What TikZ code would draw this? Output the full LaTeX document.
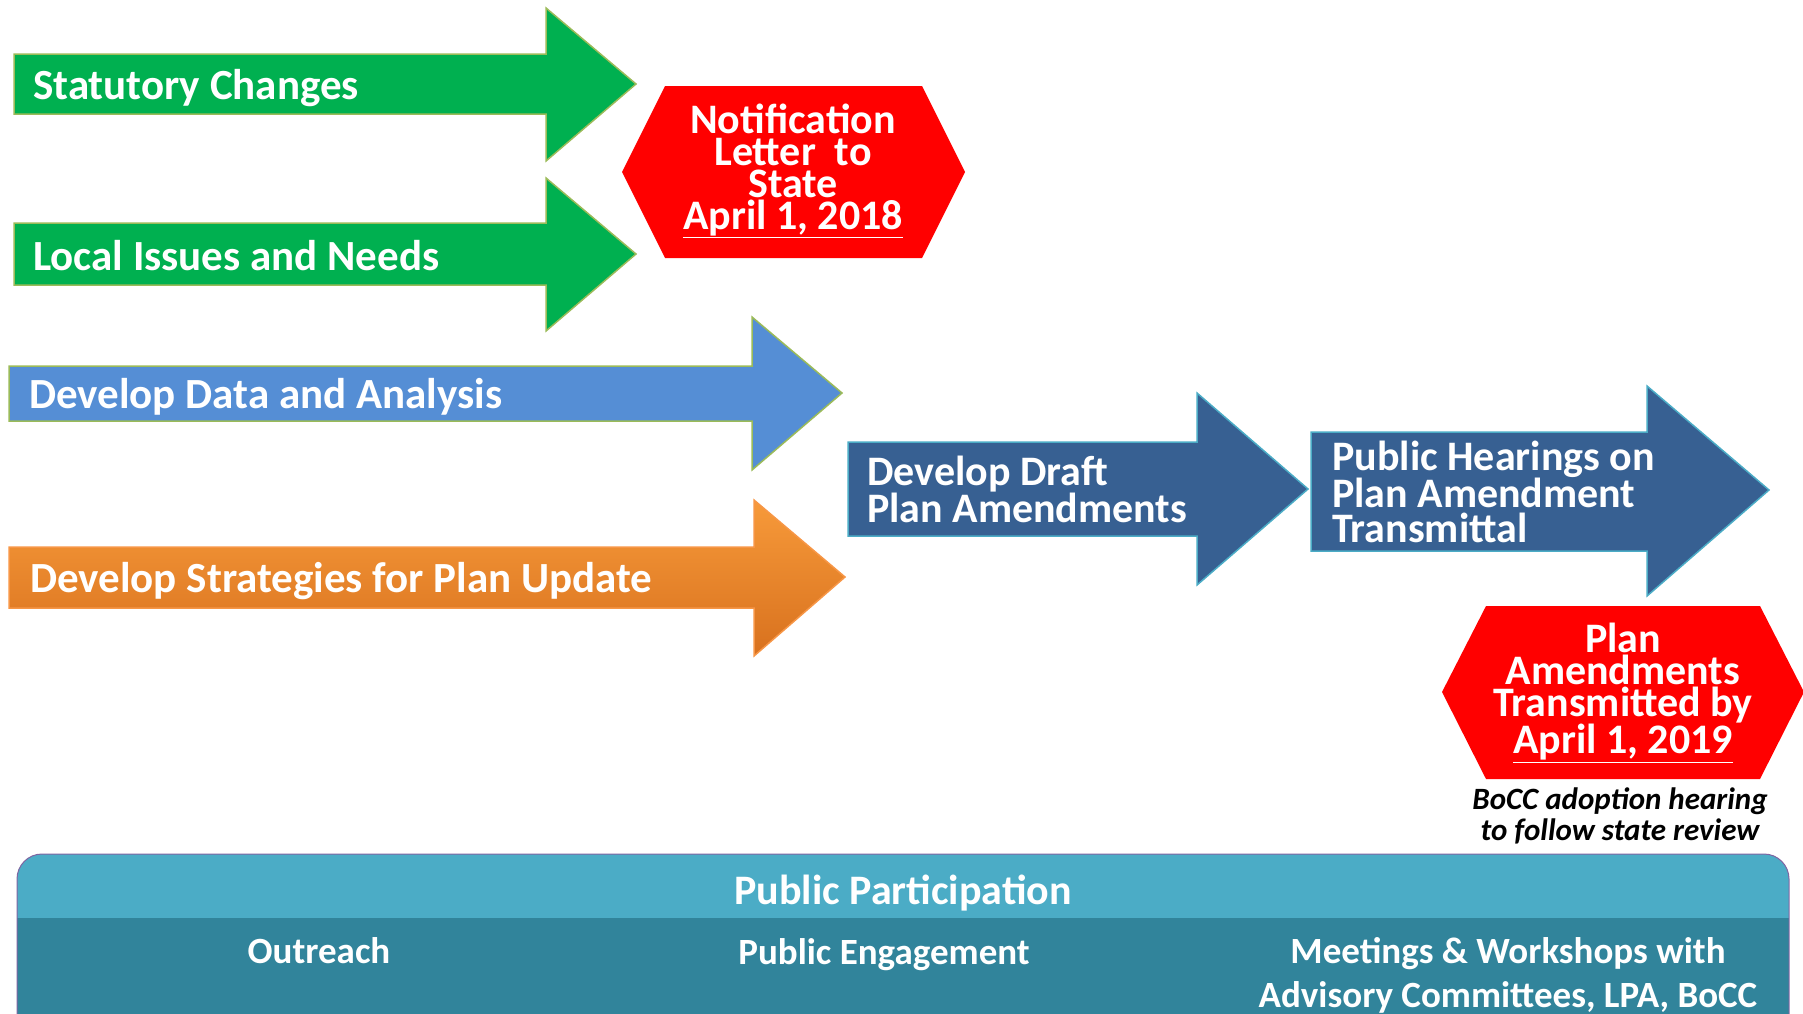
\documentclass[tikz,border=0pt]{standalone}
\usepackage{fontspec}
\setmainfont{Carlito}
\definecolor{arrowgreen}{HTML}{00B050}
\definecolor{edgegreen}{HTML}{9BBB59}
\definecolor{datablue}{HTML}{558ED5}
\definecolor{orangetop}{HTML}{F79A3A}
\definecolor{orangebot}{HTML}{D8711E}
\definecolor{edgeorange}{HTML}{F79646}
\definecolor{darkblue}{HTML}{376092}
\definecolor{edgeblue}{HTML}{4BACC6}
\definecolor{bannertop}{HTML}{4BACC6}
\definecolor{bannerbot}{HTML}{31849B}
\definecolor{edgepurple}{HTML}{8064A2}

\begin{document}
\begin{tikzpicture}[x=1pt,y=-1pt,
  greenarrow/.style={draw=edgegreen,fill=arrowgreen,line width=1.5pt},
  bluearrow/.style={draw=edgegreen,fill=datablue,line width=1.5pt},
  orangearrow/.style={draw=edgeorange,top color=orangetop,bottom color=orangebot,line width=1.5pt},
  navyarrow/.style={draw=edgeblue,fill=darkblue,line width=1.5pt},
  hexa/.style={fill=red},
  lbl/.style={text=white,font=\bfseries\fontsize{42}{36}\selectfont,inner sep=0pt,align=left},
  biglbl/.style={lbl,font=\bfseries\fontsize{43}{36}\selectfont},
  hexlbl/.style={text=white,font=\bfseries\fontsize{42}{32}\selectfont,inner sep=0pt,align=center},
  rowlbl/.style={text=white,font=\bfseries\fontsize{37}{44}\selectfont,inner sep=0pt,align=center}]
  \useasboundingbox (0,0) rectangle (1803,1013);
  \clip (0,0) rectangle (1803,1013);

  %%%%%%%%%%%%%%%%%%%%% inputs
  \draw[greenarrow] (14,54) -- (546,54) -- (546,8) -- (636,84) -- (546,161) -- (546,114) -- (14,114) -- cycle;
  \node[biglbl,anchor=west] (stat) at (33,88) {Statutory Changes};

  \draw[greenarrow] (14,223) -- (546,223) -- (546,178) -- (636,254) -- (546,331) -- (546,285) -- (14,285) -- cycle;
  \node[biglbl,anchor=west] (local) at (33,256) {Local Issues and Needs};

  \draw[bluearrow] (9,366) -- (752,366) -- (752,317) -- (842,393) -- (752,470) -- (752,421) -- (9,421) -- cycle;
  \node[biglbl,anchor=west] (data) at (29,397) {Develop Data and Analysis};

  \draw[orangearrow] (9,547) -- (754,547) -- (754,500) -- (845,577) -- (754,656) -- (754,608) -- (9,608) -- cycle;
  \node[biglbl,anchor=west] (strat) at (30,581) {Develop Strategies for Plan Update};

  %%%%%%%%%%%%%%%%%%%%% notification
  \fill[hexa] (622,172) -- (665,86) -- (922,86) -- (965,172) -- (922,258) -- (665,258) -- cycle;
  \node[hexlbl] (notif) at (793,171) {Notification\\Letter\ \ to\\State\\\underline{April 1, 2018}};

  %%%%%%%%%%%%%%%%%%%%% draft and hearings
  \draw[navyarrow] (848,442) -- (1197,442) -- (1197,393) -- (1308,489) -- (1197,585) -- (1197,536) -- (848,536) -- cycle;
  \node[lbl,anchor=west] (draft) at (867,489) {Develop Draft\\Plan Amendments};

  \draw[navyarrow] (1311,432) -- (1647,432) -- (1647,386) -- (1769,490) -- (1647,596) -- (1647,551) -- (1311,551) -- cycle;
  \node[lbl,anchor=west,font=\bfseries\fontsize{42}{35}\selectfont] (hear) at (1332,492) {Public Hearings on\\Plan Amendment\\Transmittal};

  %%%%%%%%%%%%%%%%%%%%% transmittal
  \fill[hexa] (1442,692) -- (1486,606) -- (1760,606) -- (1804,692) -- (1760,779) -- (1486,779) -- cycle;
  \node[hexlbl] (trans) at (1623,693) {Plan\\Amendments\\Transmitted by\\\underline{April 1, 2019}};
  \node[inner sep=0pt,align=center,font=\bfseries\itshape\fontsize{31}{31}\selectfont] (bocc) at (1620,816) {BoCC adoption hearing\\to follow state review};

  %%%%%%%%%%%%%%%%%%%%% public participation
  \begin{scope}
    \clip[rounded corners=25pt] (17,854) rectangle (1789,1040);
    \fill[bannerbot] (17,854) rectangle (1789,1040);
    \fill[bannertop] (17,854) rectangle (1789,918);
  \end{scope}
  \draw[edgepurple,line width=1pt,rounded corners=25pt] (17,854) rectangle (1789,1040);
  \node[lbl,align=center] (pp) at (903,893) {Public Participation};
  \node[rowlbl] (outreach) at (319,951) {Outreach};
  \node[rowlbl] (engage) at (884,955) {Public Engagement};
  \node[rowlbl,anchor=north] (meet) at (1508,937) {Meetings \& Workshops with\\Advisory Committees, LPA, BoCC};
\end{tikzpicture}
\end{document}
